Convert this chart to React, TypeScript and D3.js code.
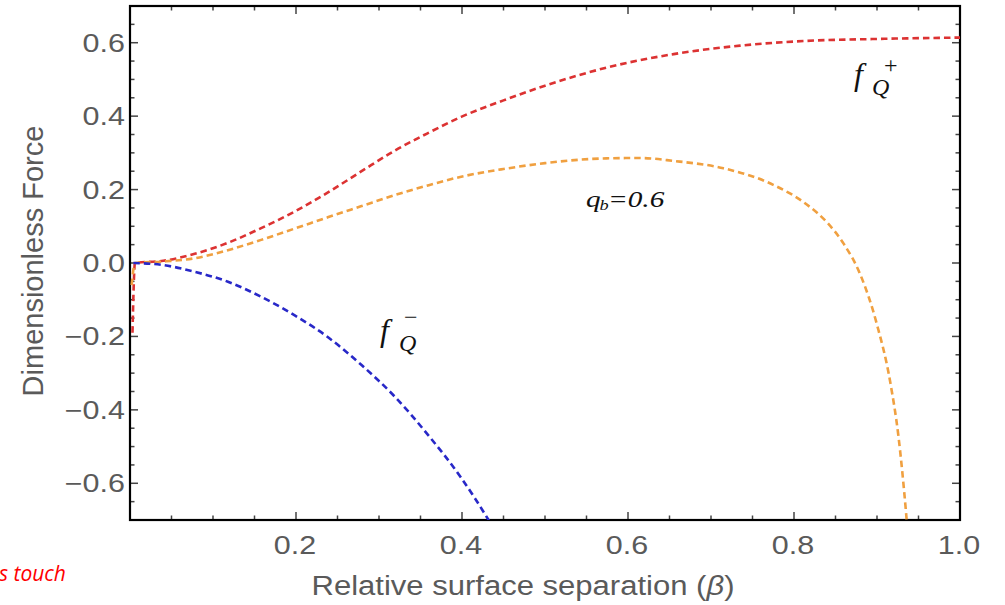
import React from 'react';
import * as d3 from 'd3';

// values
const redBeta = [0.003, 0.006, 0.04, 0.078, 0.118, 0.158, 0.2, 0.239, 0.279, 0.319, 0.36, 0.399, 0.45, 0.5, 0.574, 0.655, 0.735, 0.815, 0.895, 1.0];
const redForce = [-0.19, 0.0, 0.006, 0.025, 0.055, 0.095, 0.142, 0.193, 0.25, 0.306, 0.355, 0.398, 0.443, 0.483, 0.532, 0.569, 0.592, 0.605, 0.61, 0.614];

const orangeBeta = [0.002, 0.006, 0.04, 0.078, 0.118, 0.158, 0.2, 0.239, 0.279, 0.319, 0.36, 0.399, 0.45, 0.5, 0.574, 0.615, 0.655, 0.715, 0.775, 0.815, 0.84, 0.86, 0.88, 0.9, 0.916, 0.926, 0.935, 0.94];
const orangeForce = [-0.06, 0.0, 0.004, 0.013, 0.035, 0.063, 0.095, 0.125, 0.155, 0.185, 0.212, 0.235, 0.256, 0.272, 0.285, 0.286, 0.278, 0.258, 0.213, 0.16, 0.11, 0.052, -0.032, -0.168, -0.325, -0.475, -0.68, -0.82];

const blueBeta = [0.004, 0.038, 0.078, 0.118, 0.158, 0.198, 0.239, 0.279, 0.319, 0.359, 0.399, 0.432, 0.44];
const blueForce = [0.0, -0.005, -0.024, -0.051, -0.092, -0.142, -0.203, -0.278, -0.364, -0.468, -0.585, -0.7, -0.73];

const xTickValues = [0.2, 0.4, 0.6, 0.8, 1.0];
const xTickLabels = ['0.2', '0.4', '0.6', '0.8', '1.0'];
const yTickValues = [-0.6, -0.4, -0.2, 0, 0.2, 0.4, 0.6];
const yTickLabels = ['\u22120.6', '\u22120.4', '\u22120.2', '0.0', '0.2', '0.4', '0.6'];

const W = 1005;
const H = 605;
const frame = { left: 130, right: 960, top: 6, bottom: 520 };

const sans = 'Liberation Sans, Arial, sans-serif';
const serif = 'Liberation Serif, Times New Roman, serif';

export default function App() {
  const x = d3.scaleLinear().domain([0, 1]).range([frame.left, frame.right]);
  const y = d3.scaleLinear().domain([-0.7, 0.7]).range([frame.bottom, frame.top]);

  const line = d3.line<[number, number]>()
    .x(d => x(d[0]))
    .y(d => y(d[1]))
    .curve(d3.curveMonotoneX);

  const series = [
    { beta: redBeta, force: redForce, color: '#dc3232' },
    { beta: orangeBeta, force: orangeForce, color: '#f0a040' },
    { beta: blueBeta, force: blueForce, color: '#2828c8' },
  ];

  const xMinor = d3.range(0, 1.0001, 0.05);
  const yMinor = d3.range(-0.7, 0.7001, 0.05);
  const isMajor = (v: number) => Math.abs(v * 5 - Math.round(v * 5)) < 1e-6;

  const tickColor = '#444';

  return (
    <svg width={W} height={H} style={{ position: 'absolute', left: 0, top: 0, background: '#fff' }}>
      <defs>
        <clipPath id="plotClip">
          <rect x={frame.left} y={frame.top} width={frame.right - frame.left} height={frame.bottom - frame.top} />
        </clipPath>
      </defs>

      {/* ticks on all four sides, pointing inward */}
      {xMinor.map((v, i) => {
        const len = isMajor(v) ? 8 : 4.5;
        return (
          <g key={'xt' + i} stroke={tickColor} strokeWidth={1.5}>
            <line x1={x(v)} x2={x(v)} y1={frame.bottom} y2={frame.bottom - len} />
            <line x1={x(v)} x2={x(v)} y1={frame.top} y2={frame.top + len} />
          </g>
        );
      })}
      {yMinor.map((v, i) => {
        const len = isMajor(v) ? 8 : 4.5;
        return (
          <g key={'yt' + i} stroke={tickColor} strokeWidth={1.5}>
            <line x1={frame.left} x2={frame.left + len} y1={y(v)} y2={y(v)} />
            <line x1={frame.right} x2={frame.right - len} y1={y(v)} y2={y(v)} />
          </g>
        );
      })}

      {/* frame */}
      <rect
        x={frame.left}
        y={frame.top}
        width={frame.right - frame.left}
        height={frame.bottom - frame.top}
        fill="none"
        stroke="#000"
        strokeWidth={2.2}
      />

      {/* curves */}
      <g clipPath="url(#plotClip)">
        {series.map((s, i) => (
          <path
            key={i}
            d={line(s.beta.map((b, j) => [b, s.force[j]] as [number, number])) || ''}
            fill="none"
            stroke={s.color}
            strokeWidth={2.6}
            strokeDasharray="6.5,4"
          />
        ))}
      </g>

      {/* tick labels */}
      {yTickValues.map((v, i) => (
        <g key={'yl' + i} transform={`translate(${frame.left - 5},${y(v) + 9}) scale(1.22,1)`}>
          <text textAnchor="end" fontFamily={sans} fontSize={25} fill="#5a5a5a">{yTickLabels[i]}</text>
        </g>
      ))}
      {xTickValues.map((v, i) => (
        <g key={'xl' + i} transform={`translate(${x(v) - 1},${554}) scale(1.22,1)`}>
          <text textAnchor="middle" fontFamily={sans} fontSize={25} fill="#5a5a5a">{xTickLabels[i]}</text>
        </g>
      ))}

      {/* axis titles */}
      <text
        x={523}
        y={595}
        textAnchor="middle"
        fontFamily={sans}
        fontSize={27}
        fill="#5a5a5a"
        textLength={423}
        lengthAdjust="spacingAndGlyphs"
      >
        Relative surface separation (<tspan fontStyle="italic">β</tspan>)
      </text>
      <text
        transform="translate(43,261) rotate(-90)"
        textAnchor="middle"
        fontFamily={sans}
        fontSize={29}
        fill="#5a5a5a"
      >
        Dimensionless Force
      </text>

      {/* curve annotations */}
      <g fontFamily={serif} fontStyle="italic" fill="#111">
        <text x={854} y={85} fontSize={32}>f</text>
        <text x={872} y={95} fontSize={24}>Q</text>
        <text x={884} y={73} fontSize={24} fontStyle="normal">+</text>

        <text x={380} y={341} fontSize={32}>f</text>
        <text x={399} y={351} fontSize={24}>Q</text>
        <text x={404} y={325} fontSize={24} fontStyle="normal">{'\u2212'}</text>
      </g>
      <g transform="translate(586,207) scale(1.22,1)" fontFamily={serif} fontStyle="italic" fill="#111">
        <text x={0} y={0} fontSize={24}>q</text>
        <text x={11} y={3} fontSize={15}>b</text>
        <text x={18} y={0} fontSize={24}>=0.6</text>
      </g>

      {/* clipped note at the lower left edge */}
      <text x={-1} y={581} fontFamily="Open Sans, Liberation Sans, sans-serif" fontStyle="italic" fontSize={21} fill="#ff0000">
        s touch
      </text>
    </svg>
  );
}
